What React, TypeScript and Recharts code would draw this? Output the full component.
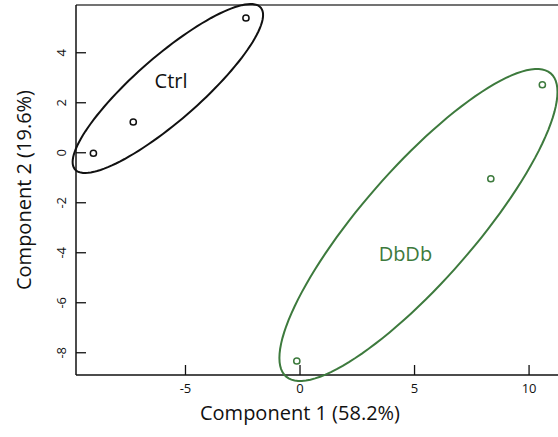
import { ScatterChart, Scatter, XAxis, YAxis, ReferenceLine } from "recharts"

// groups and their samples (PCA scores)
const groups = ["Ctrl", "DbDb"]
const groupColors = ["#111111", "#3d7a3d"]

const ctrlX = [-9.02, -7.28, -2.36]
const ctrlY = [-0.02, 1.23, 5.39]
const dbdbX = [-0.14, 8.33, 10.58]
const dbdbY = [-8.33, -1.04, 2.72]

// confidence ellipse per group: center, half width, half height, correlation
const ellipseCx = [-5.77, 5.17]
const ellipseCy = [2.57, -2.89]
const ellipseHalfW = [4.157, 6.07]
const ellipseHalfH = [3.38, 6.24]
const ellipseCorr = [0.87, 0.8525]

// where the group names sit
const labelX = [-5.63, 4.6]
const labelY = [2.89, -4.04]

const xTicks = [-5, 0, 5, 10]
const yTicks = [-8, -6, -4, -2, 0, 2, 4]
const X_DOMAIN: [number, number] = [-9.78, 12.66]
const Y_DOMAIN: [number, number] = [-8.89, 5.91]

const CHART_W = 600
const CHART_H = 437
const MARGIN = { top: 5, right: 10, bottom: 0, left: 0 }
const Y_AXIS_W = 76
const X_AXIS_H = 62
const PLOT_W = CHART_W - MARGIN.left - MARGIN.right - Y_AXIS_W
const PLOT_H = CHART_H - MARGIN.top - MARGIN.bottom - X_AXIS_H
const PX_X = PLOT_W / (X_DOMAIN[1] - X_DOMAIN[0])
const PX_Y = PLOT_H / (Y_DOMAIN[1] - Y_DOMAIN[0])

const FONT = '"Open Sans", "Noto Sans", sans-serif'

const toPoints = (xs: number[], ys: number[]) => xs.map((x, i) => ({ x, y: ys[i] }))
const ctrlData = toPoints(ctrlX, ctrlY)
const dbdbData = toPoints(dbdbX, dbdbY)

const ellipseData = groups.map((g, i) => ({
  name: g,
  x: ellipseCx[i],
  y: ellipseCy[i],
  w: ellipseHalfW[i],
  h: ellipseHalfH[i],
  r: ellipseCorr[i],
  color: groupColors[i],
}))

const labelData = groups.map((g, i) => ({ name: g, x: labelX[i], y: labelY[i], color: groupColors[i] }))

const EllipseShape = (props: any) => {
  const { cx, cy, payload } = props
  const W = payload.w * PX_X
  const H = payload.h * PX_Y
  const s = Math.sqrt(1 - payload.r * payload.r)
  let d = ""
  for (let k = 0; k <= 120; k++) {
    const t = (k / 120) * Math.PI * 2
    const px = cx + W * Math.cos(t)
    const py = cy - H * (payload.r * Math.cos(t) + s * Math.sin(t))
    d += (k === 0 ? "M" : "L") + px.toFixed(2) + "," + py.toFixed(2)
  }
  return <path d={d + "Z"} fill="none" stroke={payload.color} strokeWidth={2} />
}

const GroupLabel = (props: any) => {
  const { cx, cy, payload } = props
  return (
    <text x={cx} y={cy} textAnchor="middle" dominantBaseline="central" fontSize={20} fill={payload.color} fontFamily={FONT}>
      {payload.name}
    </text>
  )
}

const dot = (color: string) => (props: any) =>
  <circle cx={props.cx} cy={props.cy} r={3.1} fill="#fff" stroke={color} strokeWidth={1.5} />

const XTick = (props: any) => {
  const { x, y, payload } = props
  return (
    <g>
      <line x1={x} y1={y} x2={x} y2={y - 10} stroke="#111" strokeWidth={1.3} />
      <text x={x} y={y + 18} textAnchor="middle" fontSize={13} fill="#111" fontFamily={FONT}>
        {payload.value}
      </text>
    </g>
  )
}

const YTick = (props: any) => {
  const { x, y, payload } = props
  return (
    <g>
      <line x1={x} y1={y} x2={x + 10} y2={y} stroke="#111" strokeWidth={1.3} />
      <text x={x - 10} y={y} textAnchor="middle" fontSize={13} fill="#111" fontFamily={FONT}
        transform={`rotate(-90, ${x - 10}, ${y})`}>
        {payload.value}
      </text>
    </g>
  )
}

export default function App() {
  return (
    <div style={{ position: "absolute", left: 0, top: 0, width: 558, height: 437, overflow: "hidden", background: "#fff" }}>
      <ScatterChart width={CHART_W} height={CHART_H} margin={MARGIN} style={{ fontFamily: FONT }}>
        <XAxis
          type="number"
          dataKey="x"
          domain={X_DOMAIN}
          ticks={xTicks}
          tick={<XTick />}
          tickSize={0}
          tickMargin={0}
          tickLine={false}
          height={X_AXIS_H}
          axisLine={{ stroke: "#111", strokeWidth: 1.5 }}
          label={(p: any) => (
            <text x={p.viewBox.x + 224} y={p.viewBox.y + 45} textAnchor="middle" fontSize={20} fill="#111" fontFamily={FONT}>
              Component 1 (58.2%)
            </text>
          )}
        />
        <YAxis
          type="number"
          dataKey="y"
          domain={Y_DOMAIN}
          ticks={yTicks}
          tick={<YTick />}
          tickSize={0}
          tickMargin={0}
          tickLine={false}
          width={Y_AXIS_W}
          axisLine={{ stroke: "#111", strokeWidth: 1.5 }}
          label={(p: any) => (
            <text x={31} y={p.viewBox.y + p.viewBox.height / 2} textAnchor="middle" fontSize={20} fill="#111" fontFamily={FONT}
              transform={`rotate(-90, 31, ${p.viewBox.y + p.viewBox.height / 2})`}>
              Component 2 (19.6%)
            </text>
          )}
        />
        <ReferenceLine y={Y_DOMAIN[1]} stroke="#444" strokeWidth={1.5} />
        <Scatter data={ellipseData} shape={EllipseShape} isAnimationActive={false} />
        <Scatter data={labelData} shape={GroupLabel} isAnimationActive={false} />
        <Scatter name="Ctrl" data={ctrlData} shape={dot(groupColors[0])} isAnimationActive={false} />
        <Scatter name="DbDb" data={dbdbData} shape={dot(groupColors[1])} isAnimationActive={false} />
      </ScatterChart>
    </div>
  )
}
